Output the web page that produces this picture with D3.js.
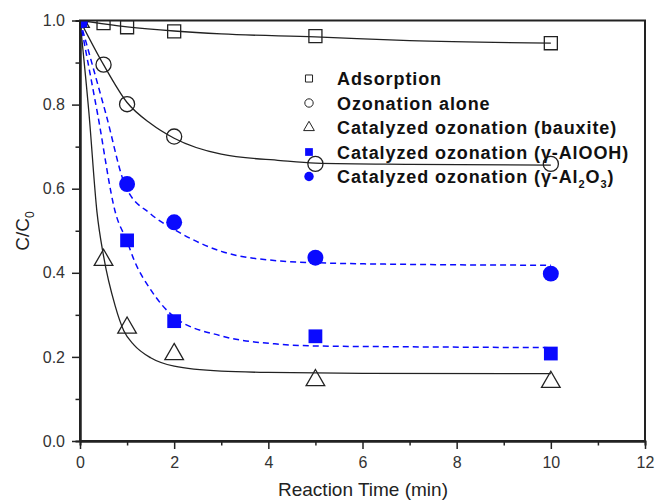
<!DOCTYPE html>
<html>
  <head>
    <meta charset="utf-8">
    <title>C/C0 vs reaction time</title>
    <script src="https://cdn.jsdelivr.net/npm/d3@7"></script>
    <style>
      body { margin: 0; background: #fff; }
      svg { font-family: "Liberation Sans", Arial, sans-serif; }
      .axis path, .axis line { stroke: #222; }
      .axis text { font-size: 16px; fill: #333; }
      .legend text { font-size: 18px; font-weight: bold; fill: #111; letter-spacing: 0.9px; }
    </style>
  </head>
  <body>
    <svg id="chart" width="655" height="502"></svg>
    <script>
      // measured points
      var times = [0, 0.5, 1, 2, 5, 10];
      var adsorption = [1.0, 0.994, 0.984, 0.974, 0.963, 0.946];
      var ozoneAlone = [1.0, 0.895, 0.801, 0.724, 0.659, 0.659];
      var bauxite = [1.0, 0.434, 0.273, 0.21, 0.148, 0.144];
      var alooh = [1.0, null, 0.477, 0.285, 0.249, 0.208];
      var al2o3 = [1.0, null, 0.611, 0.520, 0.436, 0.398];

      // fitted curves
      var fitAdsT = [0, 1, 2, 3, 5, 7, 10];
      var fitAds = [1.0, 0.985, 0.975, 0.968, 0.961, 0.952, 0.946];
      var fitOzT = [0, 0.5, 1, 1.5, 2, 3, 4.26, 5, 7, 10];
      var fitOz = [1.0, 0.895, 0.805, 0.755, 0.72, 0.682, 0.667, 0.661, 0.658, 0.656];
      var fitBxT = [0, 0.19, 0.36, 0.5, 0.75, 0.93, 1.15, 1.5, 2, 3, 4, 6, 10];
      var fitBx = [1.0, 0.78, 0.545, 0.44, 0.32, 0.262, 0.228, 0.198, 0.178, 0.166, 0.163, 0.161, 0.16];
      var fitAlT = [0, 0.37, 0.76, 1.0, 1.15, 1.5, 2, 3, 4.26, 5, 7, 10];
      var fitAl = [1.0, 0.78, 0.54, 0.475, 0.43, 0.36, 0.295, 0.25, 0.23, 0.226, 0.224, 0.222];
      var fitGaT = [0, 0.55, 0.97, 1.5, 2, 3, 4.26, 5, 7, 10];
      var fitGa = [1.0, 0.778, 0.605, 0.54, 0.503, 0.451, 0.428, 0.424, 0.42, 0.418];

      var xMajor = [0, 2, 4, 6, 8, 10, 12];
      var xMinor = [1, 3, 5, 7, 9, 11];
      var yMajor = [0, 0.2, 0.4, 0.6, 0.8, 1.0];
      var yMinor = [0.1, 0.3, 0.5, 0.7, 0.9];

      var blue = "#0a0aff";
      var chart = d3.select("#chart");
      var x = d3.scaleLinear().domain([0, 12]).range([80, 645]);
      var y = d3.scaleLinear().domain([0, 1]).range([441, 20.5]);

      // clip to plot area, like the original software
      chart.append("defs").append("clipPath").attr("id", "plotClip")
        .append("rect")
          .attr("x", x(0)).attr("y", y(1))
          .attr("width", x(12) - x(0)).attr("height", y(0) - y(1));

      // axes
      var xAxisGroup = chart.append("g").attr("class", "axis")
        .attr("transform", "translate(0," + y(0) + ")");
      xAxisGroup.call(d3.axisBottom(x).tickValues(xMajor).tickSizeInner(8).tickSizeOuter(0)
        .tickPadding(7.5).tickFormat(d3.format("d")));
      xAxisGroup.append("g").call(d3.axisBottom(x).tickValues(xMinor).tickSize(4.5).tickFormat(""));
      var yAxisGroup = chart.append("g").attr("class", "axis")
        .attr("transform", "translate(" + x(0) + ",0)");
      yAxisGroup.call(d3.axisLeft(y).tickValues(yMajor).tickSizeInner(8).tickSizeOuter(0)
        .tickPadding(7).tickFormat(d3.format(".1f")));
      yAxisGroup.append("g").call(d3.axisLeft(y).tickValues(yMinor).tickSize(4.5).tickFormat(""));
      chart.selectAll(".axis .domain").attr("stroke-width", 2);
      chart.selectAll(".axis line").attr("stroke-width", 1.5);

      // axis titles
      chart.append("text")
        .attr("x", 363).attr("y", 496)
        .attr("text-anchor", "middle")
        .style("font-size", "19px").attr("fill", "#222")
        .text("Reaction Time (min)");
      var yTitle = chart.append("text")
        .attr("transform", "translate(29," + 231 + ") rotate(-90)")
        .attr("text-anchor", "middle")
        .style("font-size", "19px").attr("fill", "#222");
      yTitle.append("tspan").text("C/C");
      yTitle.append("tspan").attr("dy", 5).style("font-size", "12px").text("0");

      // fitted curves
      var plot = chart.append("g").attr("clip-path", "url(#plotClip)");
      function drawFit(ts, vs, color, dashed) {
        var pts = ts.map(function(t, i) { return [t, vs[i]]; });
        plot.append("path")
          .attr("d", d3.line()
            .x(function(d) { return x(d[0]); })
            .y(function(d) { return y(d[1]); })
            .curve(d3.curveMonotoneX)(pts))
          .attr("fill", "none")
          .attr("stroke", color)
          .attr("stroke-width", dashed ? 1.5 : 1.3)
          .attr("stroke-dasharray", dashed ? "6,4" : null);
      }
      drawFit(fitAdsT, fitAds, "#222", false);
      drawFit(fitOzT, fitOz, "#222", false);
      drawFit(fitBxT, fitBx, "#222", false);
      drawFit(fitAlT, fitAl, blue, true);
      drawFit(fitGaT, fitGa, blue, true);

      // markers
      var symbols = {
        square: d3.symbolSquare,
        circle: d3.symbolCircle,
        triangle: d3.symbolTriangle
      };
      function drawPoints(vs, shape, size, filled) {
        var pts = times.map(function(t, i) { return [t, vs[i]]; })
          .filter(function(d) { return d[1] !== null; });
        plot.append("g").selectAll("path")
          .data(pts)
          .join("path")
            .attr("transform", function(d) {
              var dy = shape === "triangle" ? 1.5 : 0;
              return "translate(" + x(d[0]) + "," + (y(d[1]) + dy) + ")";
            })
            .attr("d", d3.symbol().type(symbols[shape]).size(size))
            .attr("fill", filled ? blue : "#fff")
            .attr("fill-opacity", filled ? 1 : 0)
            .attr("stroke", filled ? "none" : "#222")
            .attr("stroke-width", 1.3);
      }
      drawPoints(adsorption, "square", 170, false);
      drawPoints(ozoneAlone, "circle", 180, false);
      drawPoints(bauxite, "triangle", 150, false);
      drawPoints(alooh, "square", 190, true);
      drawPoints(al2o3, "circle", 200, true);

      // frame on top of the marks
      chart.append("rect")
        .attr("x", x(0)).attr("y", y(1))
        .attr("width", x(12) - x(0)).attr("height", y(0) - y(1))
        .attr("fill", "none").attr("stroke", "#222").attr("stroke-width", 2);

      // legend
      var legendRows = [
        { shape: "square", filled: false, size: 50, label: ["Adsorption"] },
        { shape: "circle", filled: false, size: 55, label: ["Ozonation alone"] },
        { shape: "triangle", filled: false, size: 50, label: ["Catalyzed ozonation (bauxite)"] },
        { shape: "square", filled: true, size: 60, label: ["Catalyzed ozonation (γ-AlOOH)"] },
        { shape: "circle", filled: true, size: 70, label: ["Catalyzed ozonation (γ-Al", "2", "O", "3", ")"] }
      ];
      var legend = chart.append("g").attr("class", "legend");
      legendRows.forEach(function(row, i) {
        var cy = 78.5 + i * 24.5;
        legend.append("path")
          .attr("transform", "translate(309," + cy + ")")
          .attr("d", d3.symbol().type(symbols[row.shape]).size(row.size))
          .attr("fill", row.filled ? blue : "none")
          .attr("stroke", row.filled ? "none" : "#222")
          .attr("stroke-width", 1);
        var t = legend.append("text").attr("x", 337).attr("y", cy + 6.5);
        row.label.forEach(function(part, j) {
          var sub = j % 2 === 1;
          t.append("tspan")
            .attr("dy", sub ? 5 : (j > 0 ? -5 : 0))
            .style("font-size", sub ? "11px" : null)
            .text(part);
        });
      });
    </script>
  </body>
</html>
